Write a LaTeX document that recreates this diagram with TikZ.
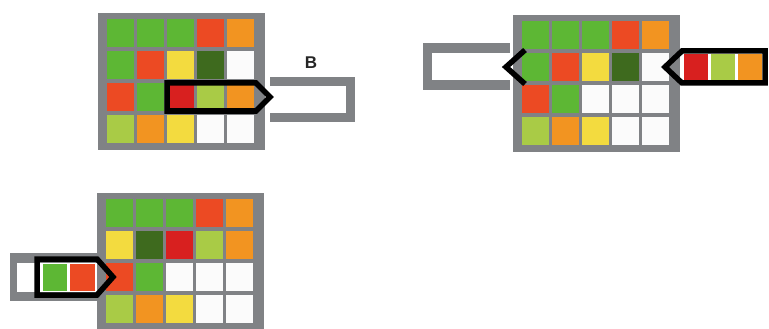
\documentclass[tikz,border=0pt]{standalone}
\usepackage{fontspec}
\setmainfont{Liberation Sans}
\definecolor{gframe}{HTML}{808285}
\definecolor{cg}{HTML}{5DB734}
\definecolor{cr}{HTML}{EC4A23}
\definecolor{co}{HTML}{F29421}
\definecolor{cy}{HTML}{F3DB3F}
\definecolor{cd}{HTML}{3E6A1E}
\definecolor{cl}{HTML}{A9CB46}
\definecolor{cR}{HTML}{D8201F}
\definecolor{cw}{HTML}{FBFBFB}
\newcommand{\drawcellgrid}[3]{%
  \fill[gframe] (#1,#2) rectangle ++(167,137);
  \foreach \row [count=\r from 0] in {#3} {
    \foreach \c [count=\k from 0] in \row {
      \fill[\c] ({#1+9+30*\k},{#2+6+32*\r}) rectangle ++(27,28);
    }
  }%
}
\begin{document}
\begin{tikzpicture}[x=1pt,y=-1pt,
  arrowline/.style={draw=black,line width=5.5pt,line join=miter},
  tubefill/.style={fill=gframe}]
\useasboundingbox[fill=white] (0,0) rectangle (769,329);
% grid 1
\drawcellgrid{98}{13}{{cg,cg,cg,cr,co},{cg,cr,cy,cd,cw},{cr,cg,cR,cl,co},{cl,co,cy,cw,cw}}
% tube B
\fill[tubefill] (270,77) rectangle (355,122);
\fill[white] (270,86) rectangle (346,113);
\node[font=\bfseries\fontsize{17}{17}\selectfont,text=black!85] (blabel) at (311,63) {B};
\draw[arrowline] (167,83) -- (256,83) -- (270,97) -- (256,111) -- (167,111) -- cycle;
% grid 2
\drawcellgrid{513}{15}{{cg,cg,cg,cr,co},{cg,cr,cy,cd,cw},{cr,cg,cw,cw,cw},{cl,co,cy,cw,cw}}
\fill[tubefill] (423,43) rectangle (510,90);
\fill[white] (432,53) rectangle (510,80);
\draw[arrowline] (525,50) -- (506,67) -- (525,84);
\fill[cR] (684,54) rectangle (708,80);
\fill[cl] (711,54) rectangle (735,80);
\fill[co] (738,54) rectangle (762,80);
\draw[arrowline] (765,51) -- (682,51) -- (665,67) -- (682,83) -- (765,83) -- cycle;
% grid 3
\drawcellgrid{97}{193}{{cg,cg,cg,cr,co},{cy,cd,cR,cl,co},{cr,cg,cw,cw,cw},{cl,co,cy,cw,cw}}
\fill[tubefill] (10,253) rectangle (97,301);
\fill[white] (17,263) rectangle (97,292);
\fill[cg] (43,264) rectangle (67,291);
\fill[cr] (70,264) rectangle (95,291);
\draw[arrowline] (37,259) -- (97,259) -- (113,277) -- (97,295) -- (37,295) -- cycle;
\end{tikzpicture}
\end{document}
